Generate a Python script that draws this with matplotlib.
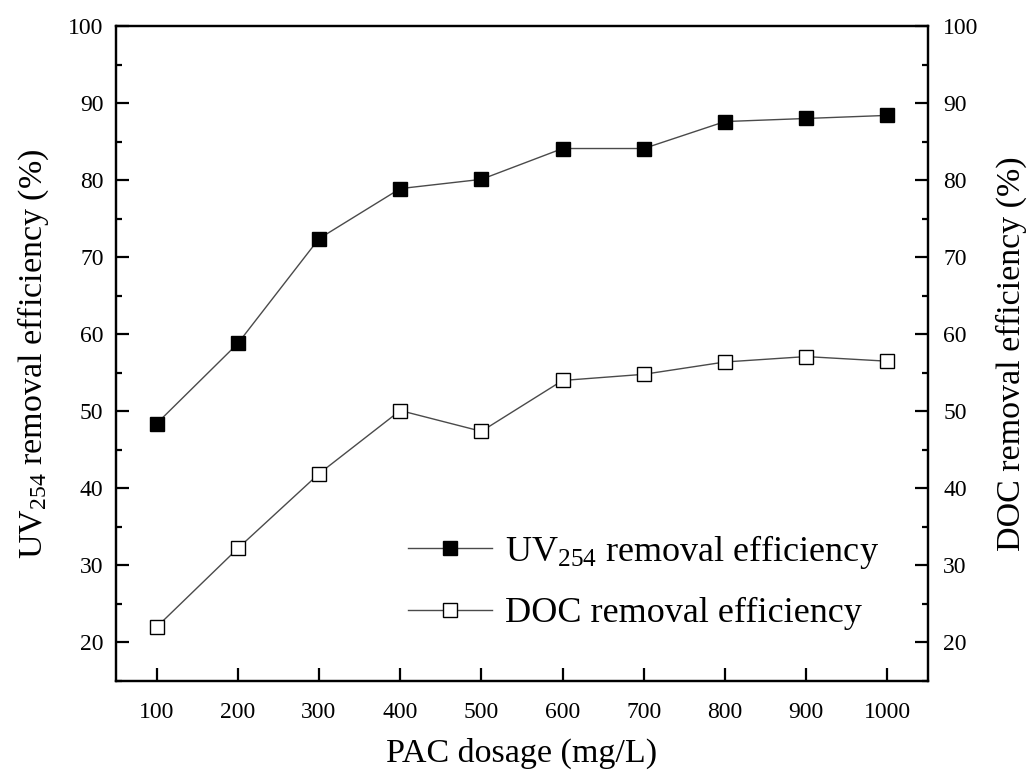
import matplotlib
matplotlib.use("Agg")
import matplotlib.pyplot as plt
from matplotlib.ticker import MultipleLocator

plt.rcParams['font.family'] = ['Liberation Serif', 'DejaVu Serif']
plt.rcParams['mathtext.fontset'] = 'custom'
plt.rcParams['mathtext.rm'] = 'Liberation Serif'
plt.rcParams['mathtext.it'] = 'Liberation Serif:italic'
plt.rcParams['mathtext.default'] = 'regular'

pac_dosage = [100, 200, 300, 400, 500, 600, 700, 800, 900, 1000]
uv254_removal = [48.4, 58.8, 72.4, 78.9, 80.1, 84.1, 84.1, 87.6, 88.0, 88.4]
doc_removal = [22.0, 32.2, 41.9, 50.1, 47.4, 54.0, 54.8, 56.4, 57.1, 56.5]
x_ticks = [100, 200, 300, 400, 500, 600, 700, 800, 900, 1000]
y_ticks = [20, 30, 40, 50, 60, 70, 80, 90, 100]

fig = plt.figure(figsize=(10.32, 7.73), dpi=100)
ax = fig.add_axes([116/1032, 1-681/773, (928-116)/1032, (681-26)/773])

line_color = '#4a4a4a'
l1, = ax.plot(pac_dosage, uv254_removal, '-', color=line_color, lw=1.0,
              marker='s', markersize=10, markerfacecolor='black',
              markeredgecolor='black', markeredgewidth=1.0,
              label='UV$_{254}$ removal efficiency')
l2, = ax.plot(pac_dosage, doc_removal, '-', color=line_color, lw=1.0,
              marker='s', markersize=10, markerfacecolor='white',
              markeredgecolor='black', markeredgewidth=1.0,
              label='DOC removal efficiency')

ax.set_xlim(50, 1050)
ax.set_ylim(15, 100)
ax.set_xticks(x_ticks)
ax.set_yticks(y_ticks)
ax.yaxis.set_minor_locator(MultipleLocator(5))

ax2 = ax.twinx()
ax2.set_ylim(15, 100)
ax2.set_yticks(y_ticks)
ax2.yaxis.set_minor_locator(MultipleLocator(5))

for a in (ax, ax2):
    for s in a.spines.values():
        s.set_linewidth(1.6)
    a.tick_params(axis='both', which='major', direction='in', length=9.5,
                  width=1.6, labelsize=17, pad=9)
    a.tick_params(axis='both', which='minor', direction='in', length=4.5,
                  width=1.6)

ax.tick_params(axis='x', pad=15)
ax2.tick_params(axis='y', pad=11)

ax.set_xlabel('PAC dosage (mg/L)', fontsize=24.5, labelpad=11)
ax.set_ylabel('UV$_{254}$ removal efficiency (%)', fontsize=24.5, labelpad=12)
ax2.set_ylabel('DOC removal efficiency (%)', fontsize=24.5, labelpad=12)

leg = ax.legend(handles=[l1, l2], loc='upper left',
                bbox_to_anchor=(408/1032, 1-533/773), bbox_transform=fig.transFigure,
                frameon=False, fontsize=26, handlelength=2.33,
                handletextpad=0.36, labelspacing=0.72, borderpad=0, borderaxespad=0)

fig.savefig('out.png', dpi=100)
